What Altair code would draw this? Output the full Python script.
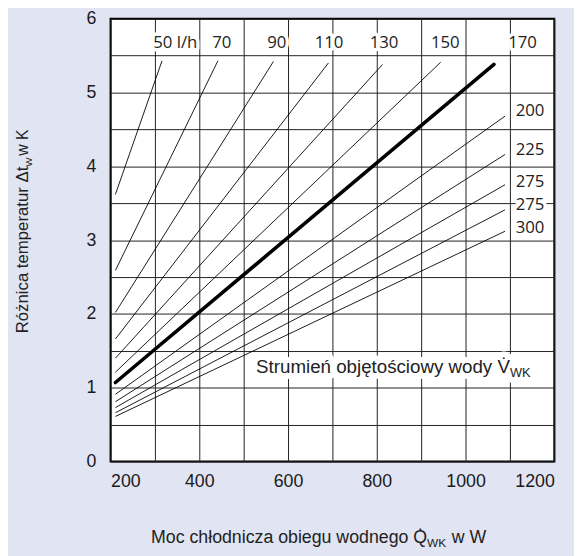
import altair as alt
import pandas as pd

# ---- data ----
flows = [50, 70, 90, 110, 130, 150, 170, 200, 225, 250, 275, 300]
start_q = [211, 211, 211, 211, 211, 211, 211, 211, 211, 211, 211, 211]
start_dt = [3.62, 2.59, 2.02, 1.66, 1.40, 1.21, 1.07, 0.91, 0.81, 0.73, 0.66, 0.61]
end_q = [316, 442, 567, 691, 813, 944, 1064, 1089, 1089, 1089, 1089, 1089]
end_dt = [5.43, 5.43, 5.42, 5.40, 5.38, 5.41, 5.38, 4.68, 4.16, 3.75, 3.41, 3.12]
bold_flow = 170

top_labels = ["50 l/h", "70", "90", "110", "130", "150", "170"]
top_label_q = [296, 429, 553, 660, 784, 922, 1096]
top_label_dt = [5.67, 5.67, 5.67, 5.67, 5.67, 5.67, 5.67]

right_labels = ["200", "225", "275", "275", "300"]
right_label_q = [1113, 1113, 1113, 1113, 1113]
right_label_dt = [4.75, 4.22, 3.78, 3.47, 3.16]

x_ticks = [200, 300, 400, 500, 600, 700, 800, 900, 1000, 1100, 1200]
y_ticks = [0, 0.5, 1, 1.5, 2, 2.5, 3, 3.5, 4, 4.5, 5, 5.5, 6]

note_text = "Strumień objętościowy wody V\u0307"
note_sub = "WK"
note_q = [1100]
note_dt = [1.2]

x_title_main = "Moc chłodnicza obiegu wodnego Q\u0307"
x_title_sub = "WK"
x_title_tail = "w W"
y_title_main = "Różnica temperatur \u0394t"
y_title_sub = "W"
y_title_tail = "w K"

# ---- tables ----
rows = []
for f, sq, sd, eq, ed in zip(flows, start_q, start_dt, end_q, end_dt):
    rows.append({"flow": f, "q": sq, "dt": sd})
    rows.append({"flow": f, "q": eq, "dt": ed})
lines_df = pd.DataFrame(rows)
top_df = pd.DataFrame({"t": top_labels, "q": top_label_q, "dt": top_label_dt})
right_df = pd.DataFrame({"t": right_labels, "q": right_label_q, "dt": right_label_dt})
note_df = pd.DataFrame({"t": [note_text], "s": [note_sub], "q": note_q, "dt": note_dt})

FONT = "Liberation Sans"
LBL_FONT = "Open Sans"

xs = alt.Scale(domain=[200, 1200], nice=False)
ys = alt.Scale(domain=[0, 6], nice=False)
xaxis = alt.Axis(values=x_ticks,
                 labelExpr="datum.value % 200 === 0 ? format(datum.value, 'd') : ''",
                 labelPadding=11, title=None)
yaxis = alt.Axis(values=y_ticks,
                 labelExpr="datum.value % 1 === 0 ? format(datum.value, 'd') : ''",
                 labelPadding=15, title=None)
X = alt.X("q:Q", scale=xs, axis=xaxis)
Y = alt.Y("dt:Q", scale=ys, axis=yaxis)

thin = alt.Chart(lines_df).transform_filter(alt.datum.flow != bold_flow).mark_line(
    color="black", strokeWidth=0.9).encode(x=X, y=Y, detail="flow:N")
bold = alt.Chart(lines_df).transform_filter(alt.datum.flow == bold_flow).mark_line(
    color="black", strokeWidth=3.6, strokeCap="round").encode(x=X, y=Y, detail="flow:N")

def labels(df, halo):
    m = dict(align="left", baseline="middle", font=LBL_FONT, fontSize=17)
    if halo:
        m.update(stroke="white", strokeWidth=7, fill="white", strokeJoin="round")
    else:
        m.update(color="#222")
    return alt.Chart(df).mark_text(**m).encode(x=X, y=Y, text="t:N")

top_h = labels(top_df, True)
top_t = labels(top_df, False)
right_h = labels(right_df, True)
right_t = labels(right_df, False)

note_h = alt.Chart(note_df).mark_text(align="right", baseline="alphabetic", font=FONT, fontSize=19,
                                      stroke="white", strokeWidth=12, fill="white",
                                      strokeJoin="round").encode(x=X, y=Y, text="t:N")
note_sh = alt.Chart(note_df).mark_text(align="left", baseline="alphabetic", font=FONT, fontSize=13,
                                       dy=4, stroke="white", strokeWidth=12, fill="white",
                                       strokeJoin="round").encode(x=X, y=Y, text="s:N")
note_t = alt.Chart(note_df).mark_text(align="right", baseline="alphabetic", font=FONT, fontSize=19,
                                      color="#222").encode(x=X, y=Y, text="t:N")
note_s = alt.Chart(note_df).mark_text(align="left", baseline="alphabetic", font=FONT, fontSize=13,
                                      dy=4, color="#222").encode(x=X, y=Y, text="s:N")

def txt(s, **kw):
    return alt.Chart(pd.DataFrame({"t": [s]})).mark_text(font=FONT, color="#222",
                                                         baseline="alphabetic", **kw).encode(text="t:N")

xt_main = txt(x_title_main, align="right", fontSize=18).encode(x=alt.value(321), y=alt.value(532))
xt_sub = txt(x_title_sub, align="left", fontSize=12, dy=4).encode(x=alt.value(321), y=alt.value(532))
xt_tail = txt(x_title_tail, align="left", fontSize=18, dx=25).encode(x=alt.value(321), y=alt.value(532))

yt_main = txt(y_title_main, align="right", fontSize=17, angle=270).encode(x=alt.value(-84), y=alt.value(150))
yt_sub = txt(y_title_sub, align="left", fontSize=10, angle=270, dy=4).encode(x=alt.value(-84), y=alt.value(150))
yt_tail = txt(y_title_tail, align="left", fontSize=16, angle=270, dx=11).encode(x=alt.value(-84), y=alt.value(150))

chart = alt.layer(
    thin, bold, top_h, top_t, right_h, right_t, note_h, note_sh, note_t, note_s,
    xt_main, xt_sub, xt_tail, yt_main, yt_sub, yt_tail
).properties(
    width=450, height=449,
    autosize=alt.AutoSizeParams(type="none"),
    padding={"left": 104, "top": 7, "right": 20, "bottom": 92},
    background="#e1e4f2",
).configure_view(
    stroke="black", strokeWidth=2, fill="white"
).configure_axis(
    labelFont=FONT, labelFontSize=18, labelColor="#1a1a1a",
    domain=False, ticks=False, grid=True, gridColor="#222222", gridWidth=1, gridOpacity=1
)

chart.save("out.html", embed_options={"renderer": "svg", "actions": False})
